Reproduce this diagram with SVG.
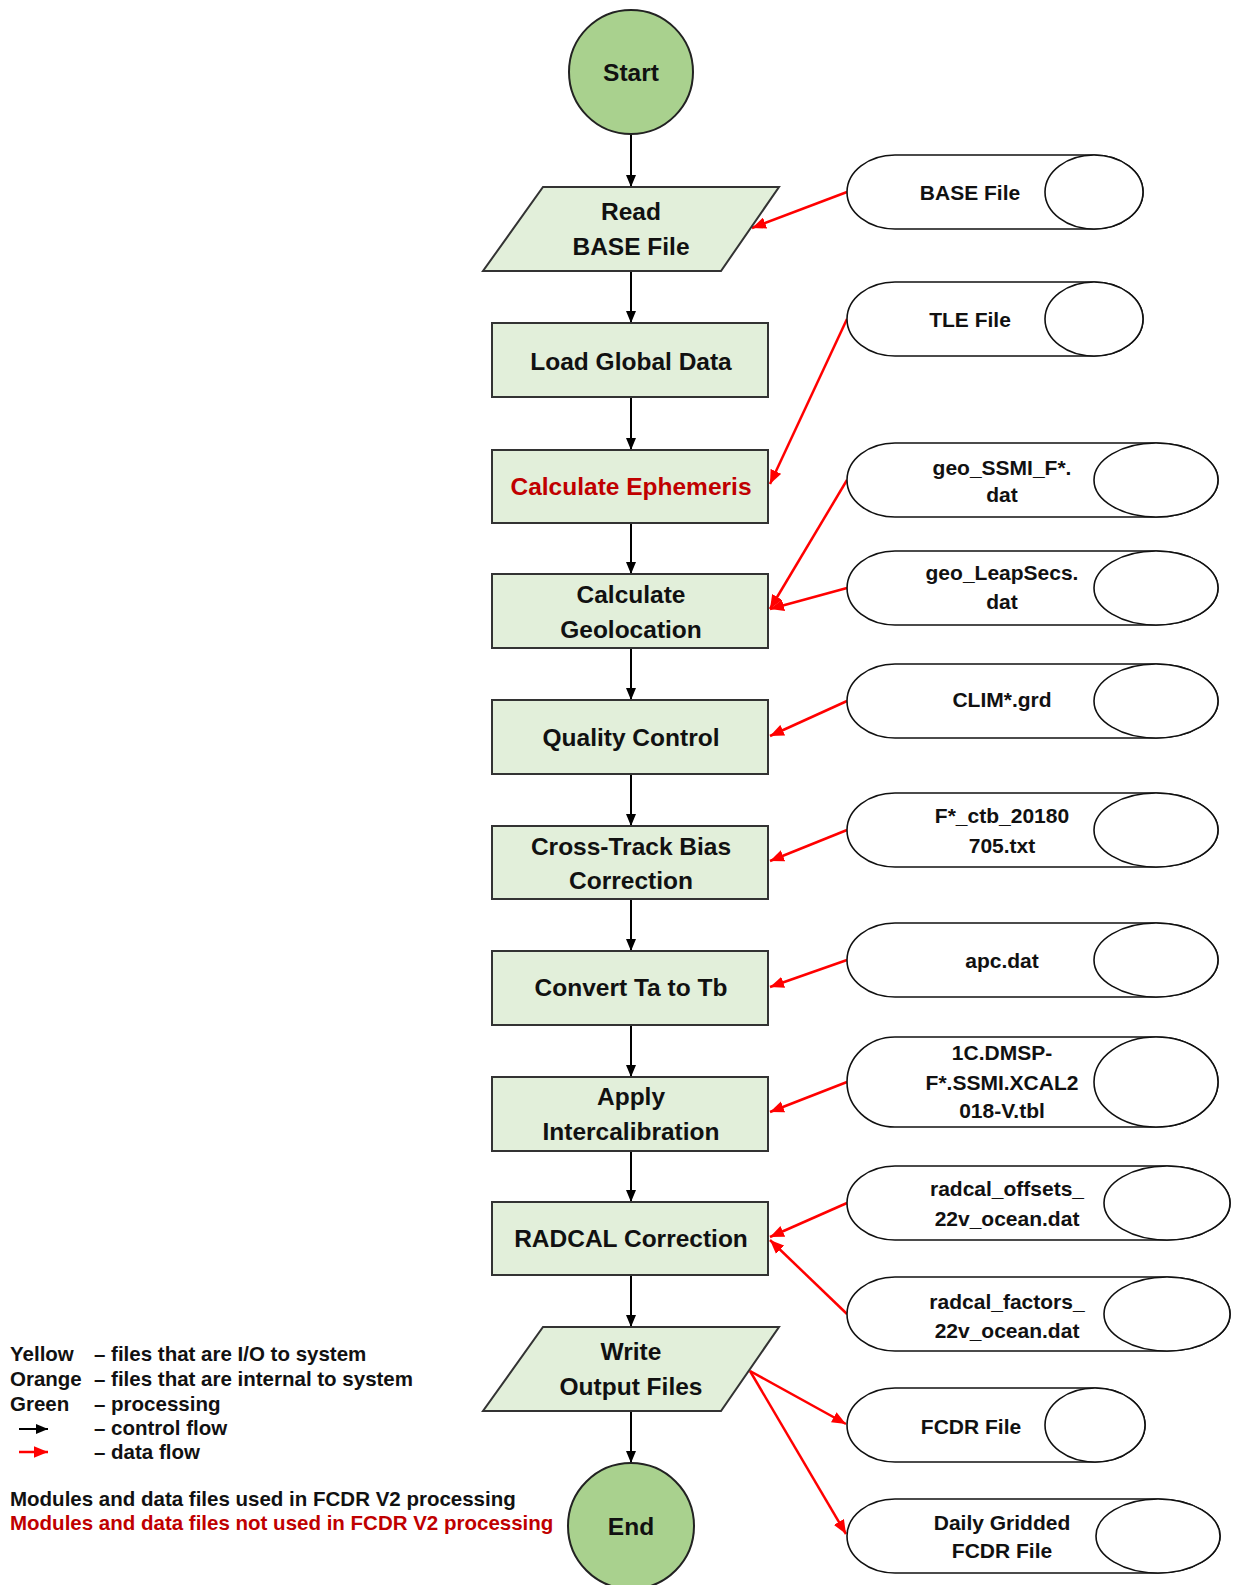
<svg xmlns="http://www.w3.org/2000/svg" width="1233" height="1585" viewBox="0 0 1233 1585">
<style>
.proc{fill:#E2EFDA;stroke:#333;stroke-width:2}
.term{fill:#A9D18E;stroke:#222;stroke-width:2}
.file{fill:#fff;stroke:#111;stroke-width:1.6}
.pt{font-family:"Liberation Sans",Arial,sans-serif;font-weight:bold;font-size:24.5px;fill:#111;text-anchor:middle}
.ft{font-family:"Liberation Sans",Arial,sans-serif;font-weight:bold;font-size:21px;fill:#111;text-anchor:middle}
.lg{font-family:"Liberation Sans",Arial,sans-serif;font-weight:bold;font-size:20.5px;fill:#111}
.red{fill:#C00000}
.ctl{stroke:#000;stroke-width:2;fill:none}
.dat{stroke:#FF0000;stroke-width:2.5;fill:none}
</style>
<defs>
<marker id="ab" viewBox="0 0 12 10" refX="12" refY="5" markerWidth="12" markerHeight="10" markerUnits="userSpaceOnUse" orient="auto"><path d="M0,0 L12,5 L0,10 z" fill="#000"/></marker>
<marker id="ar" viewBox="0 0 12 10" refX="12" refY="5" markerWidth="14" markerHeight="12" markerUnits="userSpaceOnUse" orient="auto"><path d="M0,0 L12,5 L0,10 z" fill="#FF0000"/></marker>
</defs>

<g id="connectors">
<line class="ctl" x1="631" y1="134" x2="631" y2="187" marker-end="url(#ab)"/>
<line class="ctl" x1="631" y1="271" x2="631" y2="323" marker-end="url(#ab)"/>
<line class="ctl" x1="631" y1="397" x2="631" y2="450" marker-end="url(#ab)"/>
<line class="ctl" x1="631" y1="523" x2="631" y2="574" marker-end="url(#ab)"/>
<line class="ctl" x1="631" y1="648" x2="631" y2="700" marker-end="url(#ab)"/>
<line class="ctl" x1="631" y1="774" x2="631" y2="826" marker-end="url(#ab)"/>
<line class="ctl" x1="631" y1="899" x2="631" y2="951" marker-end="url(#ab)"/>
<line class="ctl" x1="631" y1="1025" x2="631" y2="1077" marker-end="url(#ab)"/>
<line class="ctl" x1="631" y1="1151" x2="631" y2="1202" marker-end="url(#ab)"/>
<line class="ctl" x1="631" y1="1275" x2="631" y2="1327" marker-end="url(#ab)"/>
<line class="ctl" x1="631" y1="1411" x2="631" y2="1463" marker-end="url(#ab)"/>

<line class="dat" x1="847" y1="192" x2="752" y2="228" marker-end="url(#ar)"/>
<line class="dat" x1="847" y1="319" x2="770" y2="484" marker-end="url(#ar)"/>
<line class="dat" x1="847" y1="480" x2="770" y2="609" marker-end="url(#ar)"/>
<line class="dat" x1="847" y1="588" x2="770" y2="609" marker-end="url(#ar)"/>
<line class="dat" x1="847" y1="701" x2="770" y2="736" marker-end="url(#ar)"/>
<line class="dat" x1="847" y1="830" x2="770" y2="861" marker-end="url(#ar)"/>
<line class="dat" x1="847" y1="960" x2="770" y2="987" marker-end="url(#ar)"/>
<line class="dat" x1="847" y1="1082" x2="770" y2="1112" marker-end="url(#ar)"/>
<line class="dat" x1="847" y1="1203" x2="770" y2="1237" marker-end="url(#ar)"/>
<line class="dat" x1="847" y1="1314" x2="770" y2="1240" marker-end="url(#ar)"/>
<line class="dat" x1="750" y1="1371" x2="846" y2="1424" marker-end="url(#ar)"/>
<line class="dat" x1="750" y1="1371" x2="846" y2="1534" marker-end="url(#ar)"/>
</g>

<g id="start"><circle class="term" cx="631" cy="72" r="62"/><text class="pt" x="631" y="80.6">Start</text></g>
<g id="read-base"><polygon class="proc" points="543,187 779,187 721,271 483,271"/><text class="pt" x="631" y="219.6">Read</text><text class="pt" x="631" y="254.6">BASE File</text></g>
<g id="load-global"><rect class="proc" x="492" y="323" width="276" height="74"/><text class="pt" x="631" y="369.6">Load Global Data</text></g>
<g id="calc-ephemeris"><rect class="proc" x="492" y="450" width="276" height="73"/><text class="pt red" x="631" y="494.6">Calculate Ephemeris</text></g>
<g id="calc-geolocation"><rect class="proc" x="492" y="574" width="276" height="74"/><text class="pt" x="631" y="602.6">Calculate</text><text class="pt" x="631" y="637.6">Geolocation</text></g>
<g id="quality-control"><rect class="proc" x="492" y="700" width="276" height="74"/><text class="pt" x="631" y="745.6">Quality Control</text></g>
<g id="cross-track"><rect class="proc" x="492" y="826" width="276" height="73"/><text class="pt" x="631" y="854.6">Cross-Track Bias</text><text class="pt" x="631" y="888.6">Correction</text></g>
<g id="convert"><rect class="proc" x="492" y="951" width="276" height="74"/><text class="pt" x="631" y="995.6">Convert Ta to Tb</text></g>
<g id="intercal"><rect class="proc" x="492" y="1077" width="276" height="74"/><text class="pt" x="631" y="1104.6">Apply</text><text class="pt" x="631" y="1139.6">Intercalibration</text></g>
<g id="radcal"><rect class="proc" x="492" y="1202" width="276" height="73"/><text class="pt" x="631" y="1246.6">RADCAL Correction</text></g>
<g id="write-output"><polygon class="proc" points="543,1327 779,1327 721,1411 483,1411"/><text class="pt" x="631" y="1359.6">Write</text><text class="pt" x="631" y="1394.6">Output Files</text></g>
<g id="end"><circle class="term" cx="631" cy="1526" r="63"/><text class="pt" x="631" y="1534.6">End</text></g>

<g id="f-base"><path class="file" d="M895,155 H1094 A49,37 0 0 1 1094,229 H895 A48,37 0 0 1 895,155 Z"/><ellipse class="file" cx="1094" cy="192" rx="49" ry="37"/><text class="ft" x="970" y="199.5">BASE File</text></g>
<g id="f-tle"><path class="file" d="M895,282 H1094 A49,37 0 0 1 1094,356 H895 A48,37 0 0 1 895,282 Z"/><ellipse class="file" cx="1094" cy="319" rx="49" ry="37"/><text class="ft" x="970" y="326.5">TLE File</text></g>
<g id="f-geossmi"><path class="file" d="M895,443 H1156 A62,37 0 0 1 1156,517 H895 A48,37 0 0 1 895,443 Z"/><ellipse class="file" cx="1156" cy="480" rx="62" ry="37"/><text class="ft" x="1002" y="474.5">geo_SSMI_F*.</text><text class="ft" x="1002" y="501.5">dat</text></g>
<g id="f-leapsecs"><path class="file" d="M895,551 H1156 A62,37 0 0 1 1156,625 H895 A48,37 0 0 1 895,551 Z"/><ellipse class="file" cx="1156" cy="588" rx="62" ry="37"/><text class="ft" x="1002" y="579.5">geo_LeapSecs.</text><text class="ft" x="1002" y="608.5">dat</text></g>
<g id="f-clim"><path class="file" d="M895,664 H1156 A62,37 0 0 1 1156,738 H895 A48,37 0 0 1 895,664 Z"/><ellipse class="file" cx="1156" cy="701" rx="62" ry="37"/><text class="ft" x="1002" y="706.5">CLIM*.grd</text></g>
<g id="f-ctb"><path class="file" d="M895,793 H1156 A62,37 0 0 1 1156,867 H895 A48,37 0 0 1 895,793 Z"/><ellipse class="file" cx="1156" cy="830" rx="62" ry="37"/><text class="ft" x="1002" y="822.5">F*_ctb_20180</text><text class="ft" x="1002" y="852.5">705.txt</text></g>
<g id="f-apc"><path class="file" d="M895,923 H1156 A62,37 0 0 1 1156,997 H895 A48,37 0 0 1 895,923 Z"/><ellipse class="file" cx="1156" cy="960" rx="62" ry="37"/><text class="ft" x="1002" y="967.5">apc.dat</text></g>
<g id="f-xcal"><path class="file" d="M895,1037 H1156 A62,45 0 0 1 1156,1127 H895 A48,45 0 0 1 895,1037 Z"/><ellipse class="file" cx="1156" cy="1082" rx="62" ry="45"/><text class="ft" x="1002" y="1059.5">1C.DMSP-</text><text class="ft" x="1002" y="1089.5">F*.SSMI.XCAL2</text><text class="ft" x="1002" y="1117.5">018-V.tbl</text></g>
<g id="f-offsets"><path class="file" d="M895,1166 H1167 A63,37 0 0 1 1167,1240 H895 A48,37 0 0 1 895,1166 Z"/><ellipse class="file" cx="1167" cy="1203" rx="63" ry="37"/><text class="ft" x="1007" y="1195.5">radcal_offsets_</text><text class="ft" x="1007" y="1225.5">22v_ocean.dat</text></g>
<g id="f-factors"><path class="file" d="M895,1277 H1167 A63,37 0 0 1 1167,1351 H895 A48,37 0 0 1 895,1277 Z"/><ellipse class="file" cx="1167" cy="1314" rx="63" ry="37"/><text class="ft" x="1007" y="1308.5">radcal_factors_</text><text class="ft" x="1007" y="1337.5">22v_ocean.dat</text></g>
<g id="f-fcdr"><path class="file" d="M895,1388 H1095 A50,37 0 0 1 1095,1462 H895 A48,37 0 0 1 895,1388 Z"/><ellipse class="file" cx="1095" cy="1425" rx="50" ry="37"/><text class="ft" x="971" y="1433.5">FCDR File</text></g>
<g id="f-daily"><path class="file" d="M895,1499 H1158 A62,37 0 0 1 1158,1573 H895 A48,37 0 0 1 895,1499 Z"/><ellipse class="file" cx="1158" cy="1536" rx="62" ry="37"/><text class="ft" x="1002" y="1529.5">Daily Gridded</text><text class="ft" x="1002" y="1557.5">FCDR File</text></g>

<g id="legend">
<text class="lg" x="10" y="1361">Yellow</text><text class="lg" x="94" y="1361">– files that are I/O to system</text>
<text class="lg" x="10" y="1386">Orange</text><text class="lg" x="94" y="1386">– files that are internal to system</text>
<text class="lg" x="10" y="1411">Green</text><text class="lg" x="94" y="1411">– processing</text>
<line class="ctl" x1="19" y1="1429" x2="48" y2="1429" marker-end="url(#ab)"/><text class="lg" x="94" y="1435">– control flow</text>
<line class="dat" x1="19" y1="1452" x2="48" y2="1452" marker-end="url(#ar)"/><text class="lg" x="94" y="1459">– data flow</text>
<text class="lg" x="10" y="1506">Modules and data files used in FCDR V2 processing</text>
<text class="lg red" x="10" y="1530">Modules and data files not used in FCDR V2 processing</text>
</g>
</svg>
